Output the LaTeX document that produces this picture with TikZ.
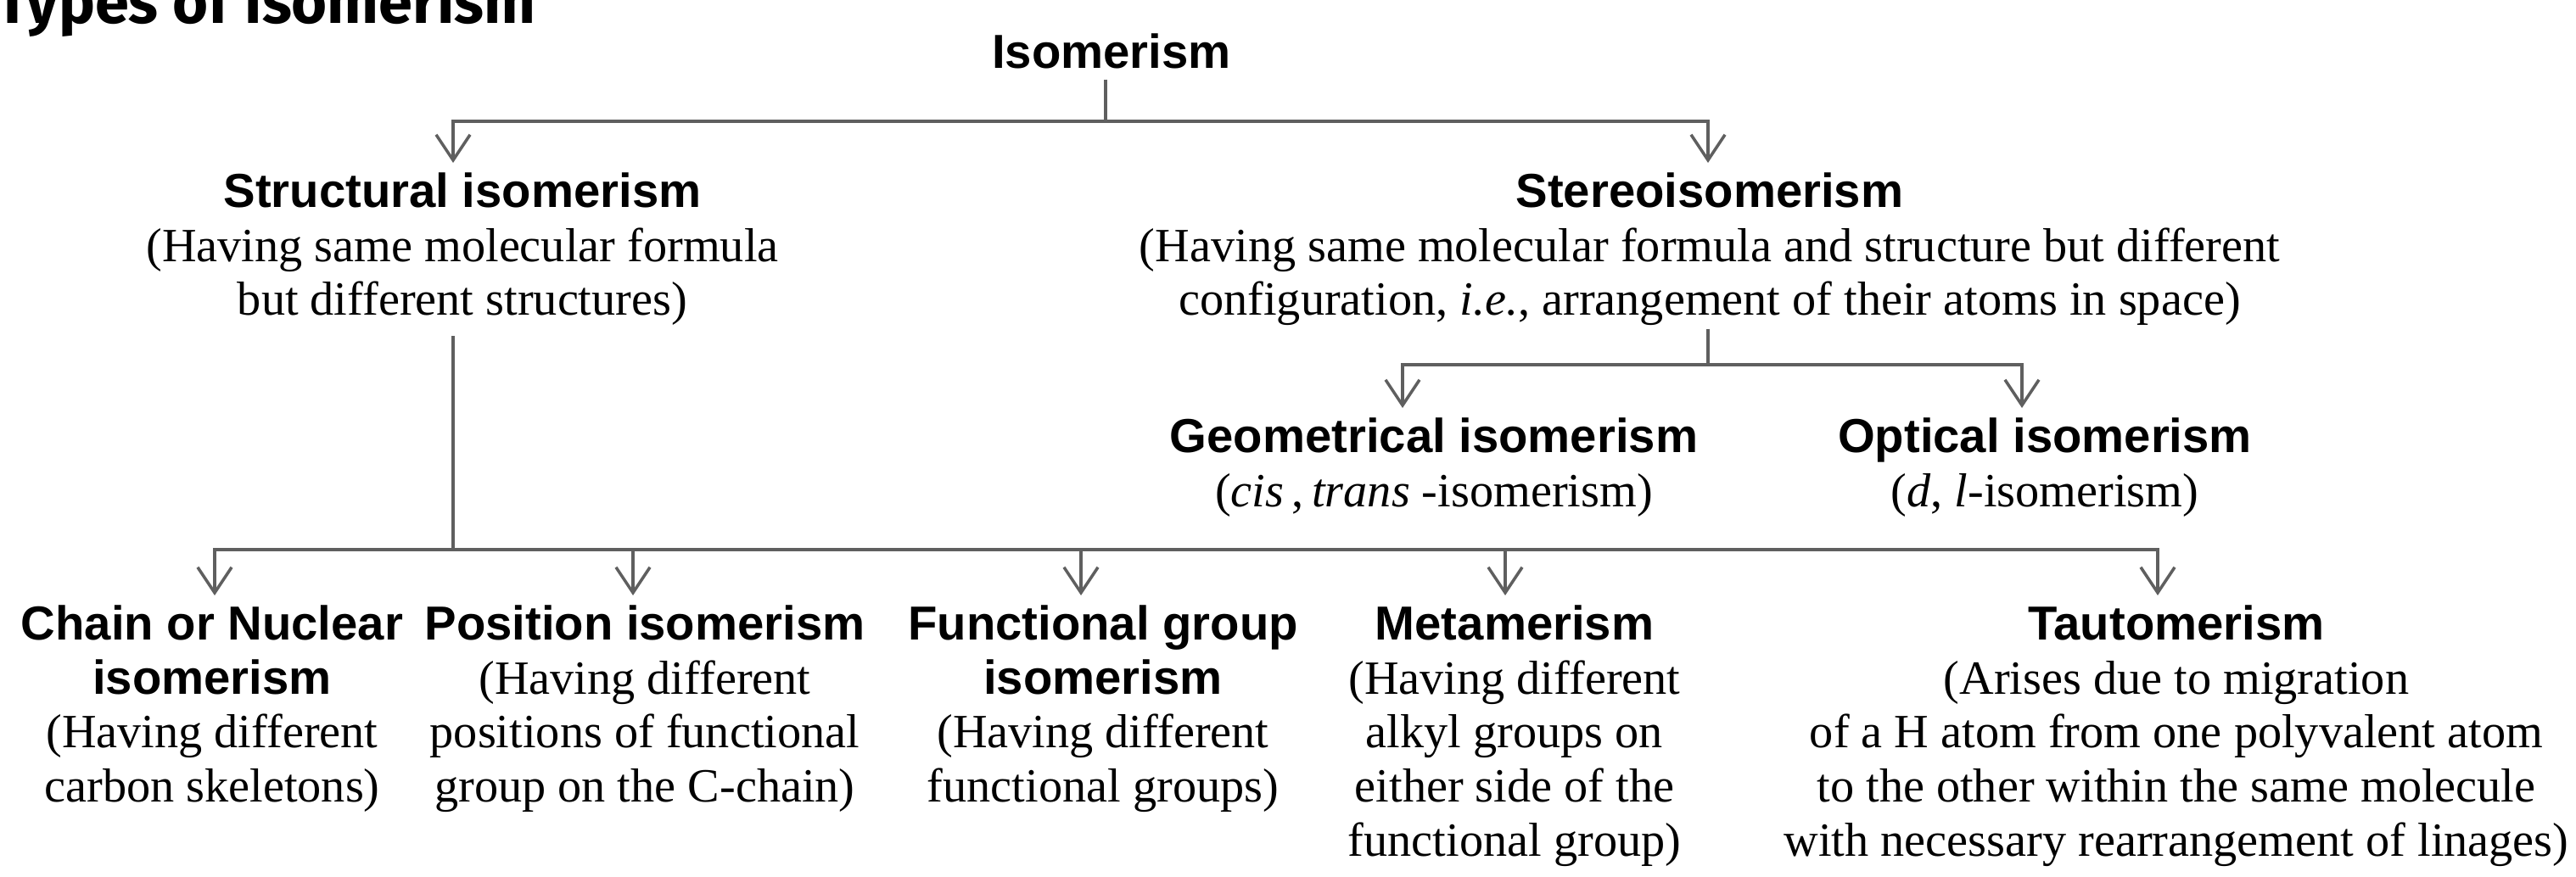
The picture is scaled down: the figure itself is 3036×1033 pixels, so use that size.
\documentclass[tikz,border=0pt]{standalone}
\usepackage{fontspec}
\setmainfont{Liberation Serif}
\newfontfamily\headfont{Liberation Sans}
\newfontfamily\titlefont{Fira Sans}
\usetikzlibrary{arrows.meta}
\definecolor{linkgray}{RGB}{95,95,95}
\newcommand{\kind}[1]{{\headfont\bfseries #1}}
\tikzset{
  class/.style={anchor=north,align=center,inner sep=0pt,font=\fontsize{16}{18.1}\selectfont},
  link/.style={draw=linkgray,line width=1pt,shorten <=0.12cm},
  arr/.style={draw=linkgray,line width=1pt,-{Straight Barb[length=0.3cm,width=0.4cm]},shorten >=0.11cm}
}

\begin{document}
\begin{tikzpicture}[x=0.01cm,y=-0.01cm]
\path[fill=white,use as bounding box] (0,0) rectangle (3036,1033);
\node[anchor=base west,inner sep=0pt,font=\titlefont\bfseries\fontsize{20.5}{24}\selectfont] (title) at (-5,27) {Types of isomerism};
% levels of the tree
\node[class] (iso) at (1310,39) {\kind{Isomerism}};
\node[class] (stru) at (545,203) {\kind{Structural isomerism}\\(Having same molecular formula\\but different structures)};
\node[class] (ster) at (2015,203) {\kind{Stereoisomerism}\\(Having same molecular formula and structure but different\\configuration, \textit{i.e.}, arrangement of their atoms in space)};
\node[class] (geo) at (1690,492) {\kind{Geometrical isomerism}\\(\textit{cis}\,,\,\textit{trans} -isomerism)};
\node[class] (opt) at (2410,492) {\kind{Optical isomerism}\\(\textit{d}, \textit{l}-isomerism)};
\node[class] (chain) at (250,713) {\kind{Chain or Nuclear}\\\kind{isomerism}\\(Having different\\carbon skeletons)};
\node[class] (pos) at (760,713) {\kind{Position isomerism}\\(Having different\\positions of functional\\group on the C-chain)};
\node[class] (func) at (1300,713) {\kind{Functional group}\\\kind{isomerism}\\(Having different\\functional groups)};
\node[class] (meta) at (1785,713) {\kind{Metamerism}\\(Having different\\alkyl groups on\\either side of the\\functional group)};
\node[class] (tauto) at (2565,713) {\kind{Tautomerism}\\(Arises due to migration\\of a H atom from one polyvalent atom\\to the other within the same molecule\\with necessary rearrangement of linages)};
% branch points
\coordinate (t0) at (1303,143); \coordinate (tL) at (534,143); \coordinate (tR) at (2013,143);
\coordinate (s0) at (2013,430); \coordinate (sL) at (1653,430); \coordinate (sR) at (2383,430);
\coordinate (b0) at (534,648); \coordinate (b1) at (253,648); \coordinate (b2) at (746,648);
\coordinate (b3) at (1274,648); \coordinate (b4) at (1774,648); \coordinate (b5) at (2543,648);
% connectors
\draw[link] (t0 |- iso.south) -- (t0);
\draw[arr] (t0) -- (tL) -- (tL |- stru.north); \draw[arr] (t0) -- (tR) -- (tR |- ster.north);
\draw[link,shorten <=0.03cm] (s0 |- ster.south) -- (s0);
\draw[arr] (s0) -- (sL) -- (sL |- geo.north); \draw[arr] (s0) -- (sR) -- (sR |- opt.north);
\draw[link] (b0 |- stru.south) -- (b0);
\draw[arr] (b0) -- (b1) -- (b1 |- chain.north); \draw[arr] (b0) -- (b5) -- (b5 |- tauto.north);
\draw[arr] (b2) -- (b2 |- pos.north); \draw[arr] (b3) -- (b3 |- func.north); \draw[arr] (b4) -- (b4 |- meta.north);
\end{tikzpicture}
\end{document}
